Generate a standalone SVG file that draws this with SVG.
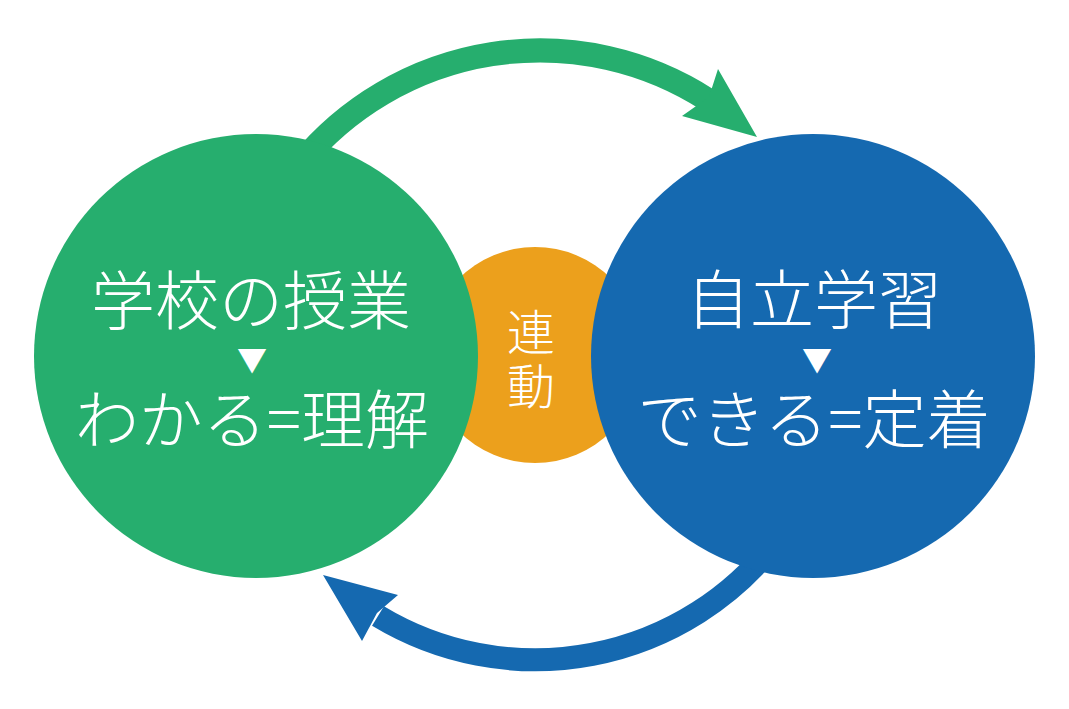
<svg xmlns="http://www.w3.org/2000/svg" width="1069" height="709" viewBox="0 0 1069 709">
<style>
.t{font-family:"Noto Sans CJK JP","Noto Sans CJK SC",sans-serif;font-weight:300;fill:#fff;text-anchor:middle;dominant-baseline:central}
.big{font-size:64px}
.mid{font-size:48px}
.tri{font-size:30px}
</style>
<rect width="1069" height="709" fill="#fff"/>
<g id="connectors">
<path d="M 300 164 A 310 310 0 0 1 708 100" fill="none" stroke="#26AE6E" stroke-width="24"/>
<polygon points="757,137 718,69 709,97 682,116" fill="#26AE6E"/>
<path d="M 777 540 A 304 304 0 0 1 378 616" fill="none" stroke="#1569B0" stroke-width="23"/>
<polygon points="323,575 398,595 377,613 362,641" fill="#1569B0"/>
</g>
<g id="link">
<circle cx="535" cy="355" r="108" fill="#ECA01C"/>
<text class="t mid"><tspan x="531" y="329">連</tspan><tspan x="531" y="383">動</tspan></text>
</g>
<g id="school">
<circle cx="256" cy="356" r="222" fill="#26AE6E"/>
<text class="t"><tspan class="big" x="251" y="296">学校の授業</tspan><tspan class="tri" x="252" y="358">▼</tspan><tspan class="big" x="252" y="415">わかる=理解</tspan></text>
</g>
<g id="self">
<circle cx="813" cy="356" r="222" fill="#1569B0"/>
<text class="t"><tspan class="big" x="814" y="295">自立学習</tspan><tspan class="tri" x="817" y="358">▼</tspan><tspan class="big" x="814" y="415">できる=定着</tspan></text>
</g>
</svg>
